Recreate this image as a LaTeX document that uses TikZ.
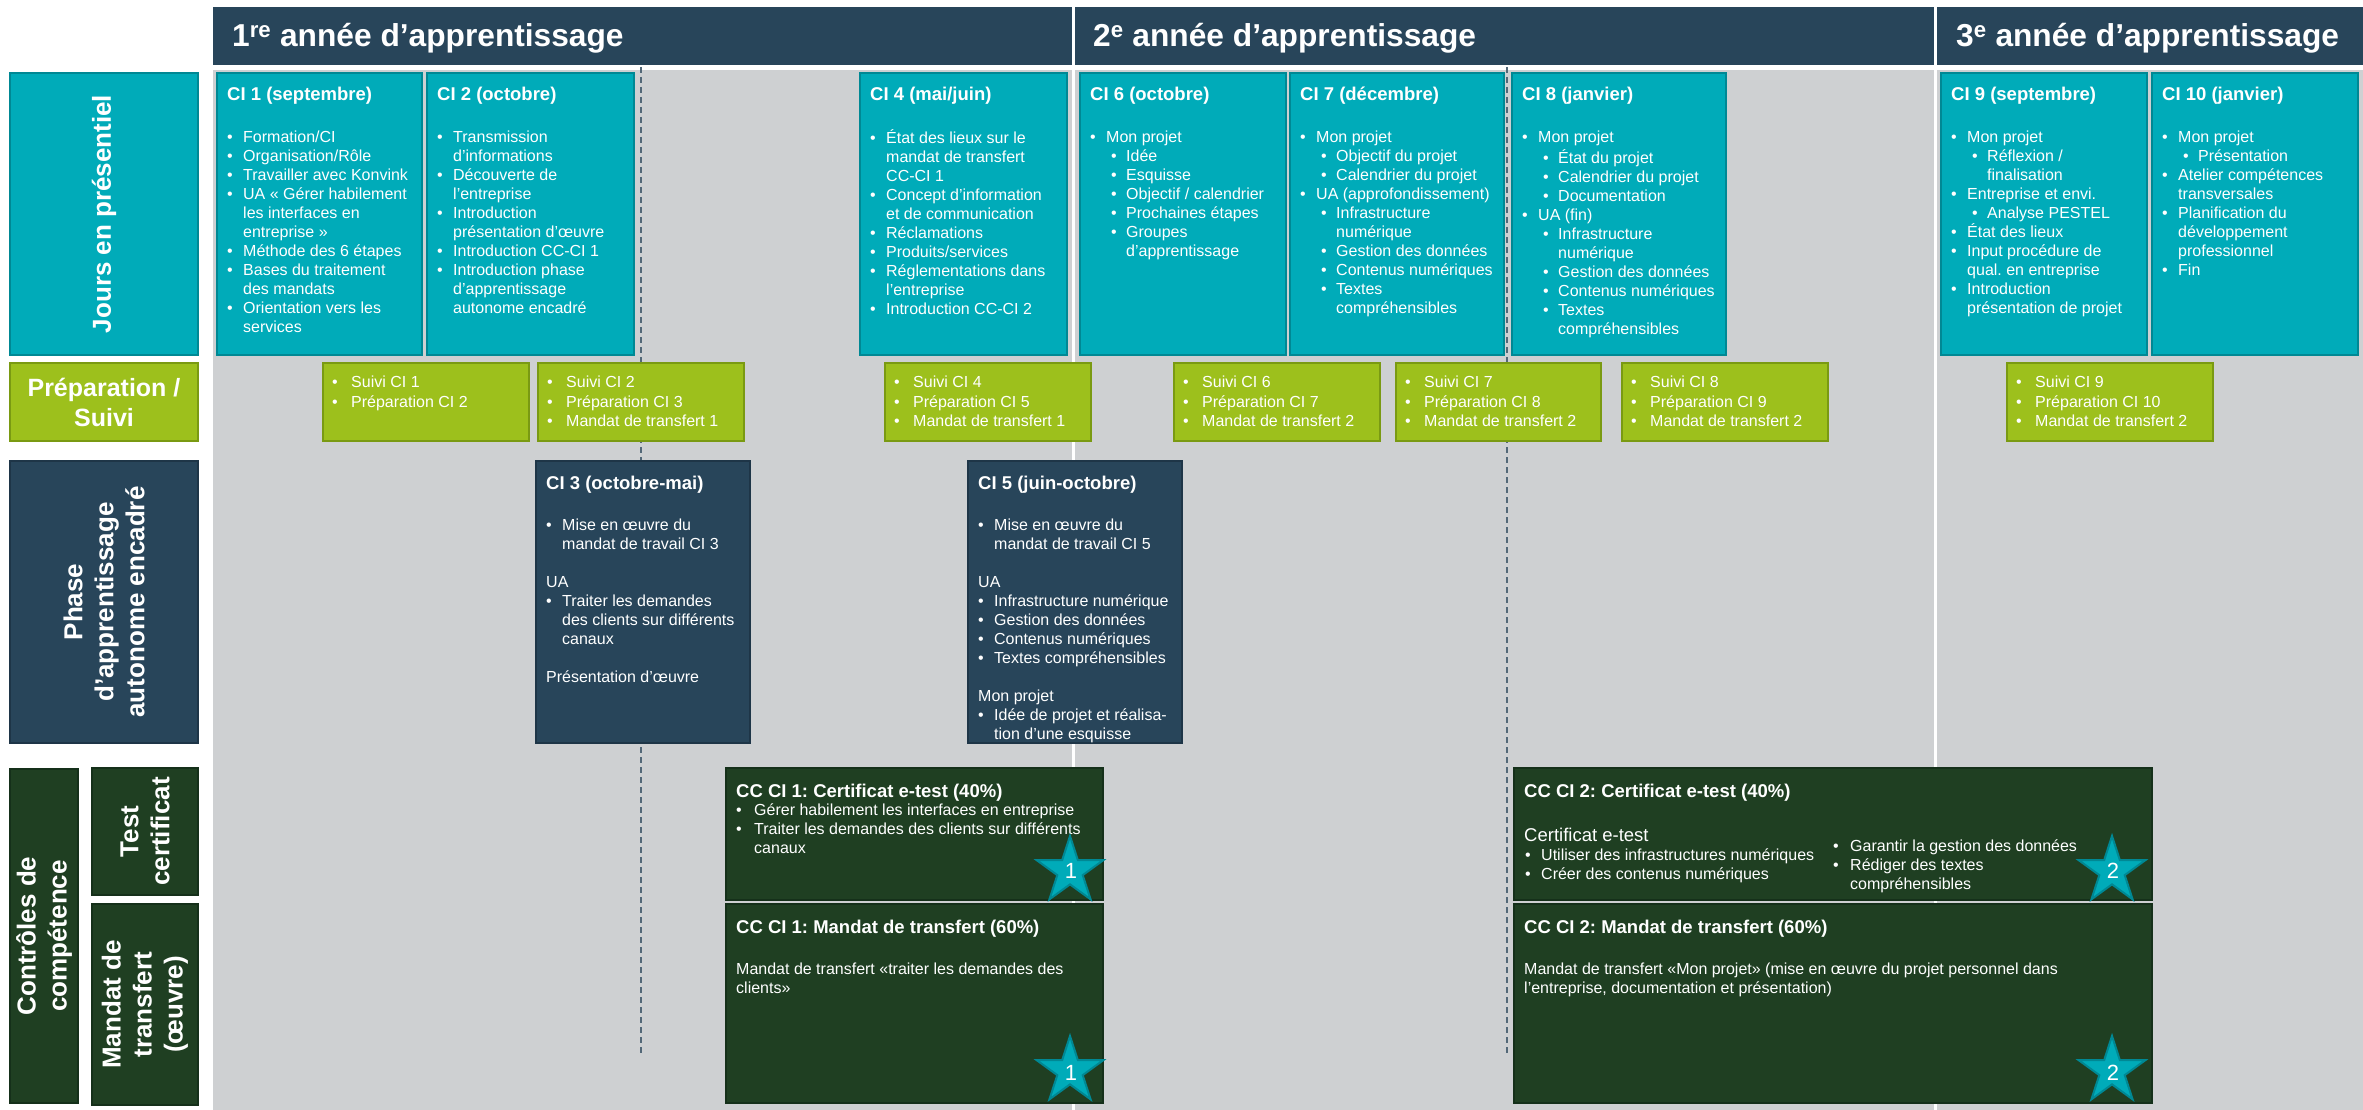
\documentclass[tikz,border=0pt]{standalone}
\usepackage{fontspec}
\setmainfont{Liberation Sans}
\usetikzlibrary{shapes.geometric}
\frenchspacing
\definecolor{cnavy}{HTML}{28455A}
\definecolor{cnavyd}{HTML}{1E3547}
\definecolor{cteal}{HTML}{00ABB9}
\definecolor{cteald}{HTML}{008894}
\definecolor{clime}{HTML}{9DC01C}
\definecolor{climed}{HTML}{7A9A12}
\definecolor{cgreen}{HTML}{1F3F22}
\definecolor{cgreend}{HTML}{15301A}
\definecolor{cgray}{HTML}{CED0D2}
\definecolor{cdash}{HTML}{536878}
\newcommand\bA{\makebox[16pt][l]{\textbullet}}
\newcommand\bB{\hspace*{21pt}\makebox[15pt][l]{\textbullet}}
\newcommand\iA{\hspace*{16pt}}
\newcommand\iB{\hspace*{36pt}}
\newcommand\bP{\makebox[19pt][l]{\textbullet}}
\newcommand\bC{\makebox[18pt][l]{\textbullet}}
\newcommand\iC{\hspace*{18pt}}
\newcommand\mkcell[6]{\node[#2, minimum width={(#5-#3)*1pt}, minimum height={(#6-#4)*1pt}] (#1) at (#3,#4) {};}
\begin{document}
\begin{tikzpicture}[x=1pt,y=-1pt,
  cellbase/.style={anchor=north west, inner sep=0pt, outer sep=0pt, line width=2.5pt},
  tealcell/.style={cellbase, fill=cteal, draw=cteald},
  limecell/.style={cellbase, fill=clime, draw=climed},
  navycell/.style={cellbase, fill=cnavy, draw=cnavyd},
  greencell/.style={cellbase, fill=cgreen, draw=cgreend},
  hdrtext/.style={anchor=base west, inner sep=0pt, text=white, font=\fontsize{31.7}{38}\selectfont\bfseries\frenchspacing},
  ttltext/.style={anchor=base west, inner sep=0pt, text=white, font=\fontsize{18.5}{22}\selectfont\bfseries\frenchspacing},
  bodytext/.style={anchor=north west, inner sep=0pt, text=white, align=left, font=\fontsize{16}{19}\selectfont\frenchspacing},
  preptext/.style={bodytext, font=\fontsize{16}{19.5}\selectfont\frenchspacing},
  lbltext/.style={inner sep=0pt, text=white, align=center, font=\fontsize{26}{31}\selectfont\bfseries},
  starshape/.style={star, star points=5, star point ratio=2.618, minimum size=70pt, inner sep=0pt, fill=cteal, draw=cteald, line width=2pt},
  startext/.style={text=white, inner sep=0pt, font=\fontsize{22}{26}\selectfont},
  sepline/.style={white, line width=3pt},
  yearline/.style={cdash, line width=1.5pt, dash pattern=on 6pt off 4pt},
]
\fill[white] (0,0) rectangle (2363,1110);
\useasboundingbox (0,0) rectangle (2363,1110);
\fill[cgray] (213,70) rectangle (2363,1110);
\fill[cnavy] (213,7) rectangle (2363,65);
\draw[sepline] (1073,7) -- (1073,1110);
\draw[sepline] (1935,7) -- (1935,1110);
\draw[yearline] (641,67) -- (641,1053);
\draw[yearline] (1507,67) -- (1507,1053);

% headers
\node[hdrtext] (h1) at (232,47) {1\textsuperscript{re} année d’apprentissage};
\node[hdrtext] (h2) at (1093,47) {2\textsuperscript{e} année d’apprentissage};
\node[hdrtext] (h3) at (1956,47) {3\textsuperscript{e} année d’apprentissage};

% left labels
\mkcell{lJours}{tealcell}{10}{73}{198}{355}
\mkcell{lPrep}{limecell}{10}{363}{198}{441}
\mkcell{lPhase}{navycell}{10}{461}{198}{743}
\mkcell{lCtrl}{greencell}{10}{769}{78}{1103}
\mkcell{lTest}{greencell}{92}{768}{198}{895}
\mkcell{lMand}{greencell}{92}{904}{198}{1105}
\node[lbltext, rotate=90] (tJours) at (lJours.center) {Jours en présentiel};
\node[lbltext, font=\fontsize{25}{30}\selectfont\bfseries] (tPrep) at (lPrep.center) {Préparation /\\Suivi};
\node[lbltext, rotate=90] (tPhase) at (lPhase.center) {Phase\\d’apprentissage\\autonome encadré};
\node[lbltext, rotate=90] (tCtrl) at (lCtrl.center) {Contrôles de\\compétence};
\node[lbltext, rotate=90] (tTest) at (lTest.center) {Test\\certificat};
\node[lbltext, rotate=90] (tMand) at (lMand.center) {Mandat de\\transfert\\(œuvre)};

% CI row
\mkcell{ci1}{tealcell}{217}{73}{422}{355}
\mkcell{ci2}{tealcell}{427}{73}{634}{355}
\mkcell{ci4}{tealcell}{860}{73}{1067}{355}
\mkcell{ci6}{tealcell}{1080}{73}{1286}{355}
\mkcell{ci7}{tealcell}{1290}{73}{1504}{355}
\mkcell{ci8}{tealcell}{1512}{73}{1726}{355}
\mkcell{ci9}{tealcell}{1941}{73}{2147}{355}
\mkcell{ci10}{tealcell}{2152}{73}{2358}{355}

\node[ttltext] (ci1t) at (227,101) {CI 1 (septembre)};
\node[bodytext] (ci1b) at (227,129) {\strut\bA Formation/CI\\
\bA Organisation/Rôle\\
\bA Travailler avec Konvink\\
\bA UA « Gérer habilement\\
\iA les interfaces en\\
\iA entreprise »\\
\bA Méthode des 6 étapes\\
\bA Bases du traitement\\
\iA des mandats\\
\bA Orientation vers les\\
\iA services};

\node[ttltext] (ci2t) at (437,101) {CI 2 (octobre)};
\node[bodytext] (ci2b) at (437,129) {\strut\bA Transmission\\
\iA d’informations\\
\bA Découverte de\\
\iA l’entreprise\\
\bA Introduction\\
\iA présentation d’œuvre\\
\bA Introduction CC-CI 1\\
\bA Introduction phase\\
\iA d’apprentissage\\
\iA autonome encadré};

\node[ttltext] (ci4t) at (870,101) {CI 4 (mai/juin)};
\node[bodytext] (ci4b) at (870,129) {\strut\bA État des lieux sur le\\
\iA mandat de transfert\\
\iA CC-CI 1\\
\bA Concept d’information\\
\iA et de communication\\
\bA Réclamations\\
\bA Produits/services\\
\bA Réglementations dans\\
\iA l’entreprise\\
\bA Introduction CC-CI 2};

\node[ttltext] (ci6t) at (1090,101) {CI 6 (octobre)};
\node[bodytext] (ci6b) at (1090,129) {\strut\bA Mon projet\\
\bB Idée\\
\bB Esquisse\\
\bB Objectif / calendrier\\
\bB Prochaines étapes\\
\bB Groupes\\
\iB d’apprentissage};

\node[ttltext] (ci7t) at (1300,101) {CI 7 (décembre)};
\node[bodytext] (ci7b) at (1300,129) {\strut\bA Mon projet\\
\bB Objectif du projet\\
\bB Calendrier du projet\\
\bA UA (approfondissement)\\
\bB Infrastructure\\
\iB numérique\\
\bB Gestion des données\\
\bB Contenus numériques\\
\bB Textes\\
\iB compréhensibles};

\node[ttltext] (ci8t) at (1522,101) {CI 8 (janvier)};
\node[bodytext] (ci8b) at (1522,129) {\strut\bA Mon projet\\
\bB État du projet\\
\bB Calendrier du projet\\
\bB Documentation\\
\bA UA (fin)\\
\bB Infrastructure\\
\iB numérique\\
\bB Gestion des données\\
\bB Contenus numériques\\
\bB Textes\\
\iB compréhensibles};

\node[ttltext] (ci9t) at (1951,101) {CI 9 (septembre)};
\node[bodytext] (ci9b) at (1951,129) {\strut\bA Mon projet\\
\bB Réflexion /\\
\iB finalisation\\
\bA Entreprise et envi.\\
\bB Analyse PESTEL\\
\bA État des lieux\\
\bA Input procédure de\\
\iA qual. en entreprise\\
\bA Introduction\\
\iA présentation de projet};

\node[ttltext] (ci10t) at (2162,101) {CI 10 (janvier)};
\node[bodytext] (ci10b) at (2162,129) {\strut\bA Mon projet\\
\bB Présentation\\
\bA Atelier compétences\\
\iA transversales\\
\bA Planification du\\
\iA développement\\
\iA professionnel\\
\bA Fin};

% preparation row
\mkcell{p1}{limecell}{323}{363}{529}{441}
\mkcell{p2}{limecell}{538}{363}{744}{441}
\mkcell{p4}{limecell}{885}{363}{1091}{441}
\mkcell{p6}{limecell}{1174}{363}{1380}{441}
\mkcell{p7}{limecell}{1396}{363}{1601}{441}
\mkcell{p8}{limecell}{1622}{363}{1828}{441}
\mkcell{p9}{limecell}{2007}{363}{2213}{441}
\node[preptext] (p1b) at (332,374) {\strut\bP Suivi CI 1\\ \bP Préparation CI 2};
\node[preptext] (p2b) at (547,374) {\strut\bP Suivi CI 2\\ \bP Préparation CI 3\\ \bP Mandat de transfert 1};
\node[preptext] (p4b) at (894,374) {\strut\bP Suivi CI 4\\ \bP Préparation CI 5\\ \bP Mandat de transfert 1};
\node[preptext] (p6b) at (1183,374) {\strut\bP Suivi CI 6\\ \bP Préparation CI 7\\ \bP Mandat de transfert 2};
\node[preptext] (p7b) at (1405,374) {\strut\bP Suivi CI 7\\ \bP Préparation CI 8\\ \bP Mandat de transfert 2};
\node[preptext] (p8b) at (1631,374) {\strut\bP Suivi CI 8\\ \bP Préparation CI 9\\ \bP Mandat de transfert 2};
\node[preptext] (p9b) at (2016,374) {\strut\bP Suivi CI 9\\ \bP Préparation CI 10\\ \bP Mandat de transfert 2};

% phase row
\mkcell{ci3}{navycell}{536}{461}{750}{743}
\mkcell{ci5}{navycell}{968}{461}{1182}{743}
\node[ttltext] (ci3t) at (546,489) {CI 3 (octobre-mai)};
\node[bodytext] (ci3b) at (546,517) {\strut\bA Mise en œuvre du\\
\iA mandat de travail CI 3\\[19pt]
UA\\
\bA Traiter les demandes\\
\iA des clients sur différents\\
\iA canaux\\[19pt]
Présentation d’œuvre};
\node[ttltext] (ci5t) at (978,489) {CI 5 (juin-octobre)};
\node[bodytext] (ci5b) at (978,517) {\strut\bA Mise en œuvre du\\
\iA mandat de travail CI 5\\[19pt]
UA\\
\bA Infrastructure numérique\\
\bA Gestion des données\\
\bA Contenus numériques\\
\bA Textes compréhensibles\\[19pt]
Mon projet\\
\bA Idée de projet et réalisa-\\
\iA tion d’une esquisse};

% competence checks
\mkcell{cc1c}{greencell}{726}{768}{1103}{900}
\mkcell{cc1m}{greencell}{726}{904}{1103}{1103}
\mkcell{cc2c}{greencell}{1514}{768}{2152}{900}
\mkcell{cc2m}{greencell}{1514}{904}{2152}{1103}

\node[ttltext] (cc1ct) at (736,797) {CC CI 1: Certificat e-test (40\%)};
\node[bodytext] (cc1cb) at (736,802) {\strut\bC Gérer habilement les interfaces en entreprise\\
\bC Traiter les demandes des clients sur différents\\
\iC canaux};
\node[ttltext] (cc1mt) at (736,933) {CC CI 1: Mandat de transfert (60\%)};
\node[bodytext] (cc1mb) at (736,961) {\strut Mandat de transfert «traiter les demandes des\\
clients»};

\node[ttltext] (cc2ct) at (1524,797) {CC CI 2: Certificat e-test (40\%)};
\node[anchor=base west, inner sep=0pt, text=white, font=\fontsize{18.5}{22}\selectfont] (cc2csub) at (1524,841) {Certificat e-test};
\node[bodytext] (cc2cl) at (1525,847) {\strut\bA Utiliser des infrastructures numériques\\
\bA Créer des contenus numériques};
\node[bodytext] (cc2cr) at (1833,838) {\strut\makebox[17pt][l]{\textbullet}Garantir la gestion des données\\
\makebox[17pt][l]{\textbullet}Rédiger des textes\\
\hspace*{17pt}compréhensibles};
\node[ttltext] (cc2mt) at (1524,933) {CC CI 2: Mandat de transfert (60\%)};
\node[bodytext] (cc2mb) at (1524,961) {\strut Mandat de transfert «Mon projet» (mise en œuvre du projet personnel dans\\
l’entreprise, documentation et présentation)};

% stars
\node[starshape] (s1a) at (1070,871) {};
\node[startext] (n1a) at (1071,871) {1};
\node[starshape] (s1b) at (1070,1071) {};
\node[startext] (n1b) at (1071,1073) {1};
\node[starshape] (s2a) at (2112,871) {};
\node[startext] (n2a) at (2113,871) {2};
\node[starshape] (s2b) at (2112,1071) {};
\node[startext] (n2b) at (2113,1073) {2};
\end{tikzpicture}
\end{document}
